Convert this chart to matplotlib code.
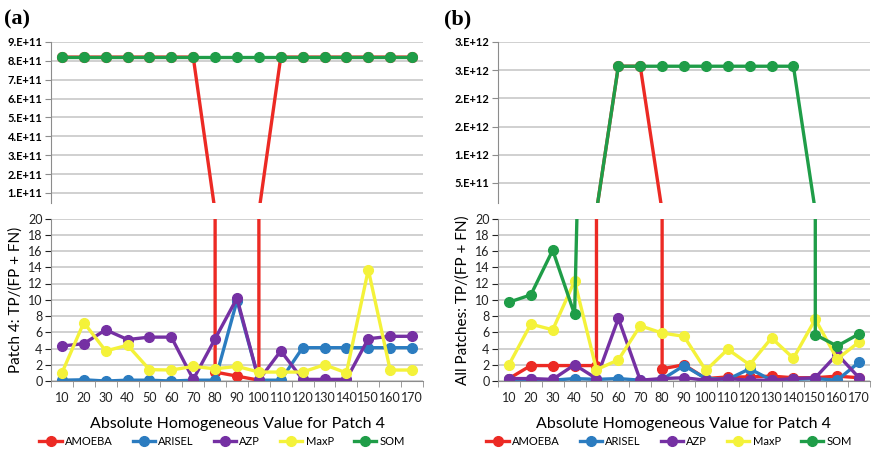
import matplotlib
matplotlib.use("Agg")
from matplotlib import pyplot as plt
from matplotlib.ticker import FixedLocator, NullFormatter
import numpy as np

plt.rcParams['font.family'] = ['Lato', 'DejaVu Sans']

# valores homogeneos (eje x)
cats = [10, 20, 30, 40, 50, 60, 70, 80, 90, 100, 110, 120, 130, 140, 150, 160, 170]
names = ["AMOEBA", "ARISEL", "AZP", "MaxP", "SOM"]
colors = ["#ec2a24", "#2b7cc0", "#7530a3", "#f4f23a", "#1f9d48"]

# panel (a): Patch 4
a_amoeba = [8.2e11, 8.2e11, 8.2e11, 8.2e11, 8.2e11, 8.2e11, 8.2e11, 1.1, 0.6, 0.1,
            8.2e11, 8.2e11, 8.2e11, 8.2e11, 8.2e11, 8.2e11, 8.2e11]
a_arisel = [0.1, 0.15, 0.0, 0.1, 0.1, 0.0, 0.1, 0.1, 9.9, 0.1, 0.1, 4.1, 4.1, 4.1, 4.1, 4.1, 4.1]
a_azp = [4.3, 4.6, 6.3, 5.1, 5.4, 5.4, 0.2, 5.2, 10.2, 0.1, 3.7, 0.2, 0.2, 0.2, 5.2, 5.5, 5.5]
a_maxp = [1.0, 7.2, 3.7, 4.4, 1.4, 1.35, 1.8, 1.5, 1.8, 1.1, 1.1, 1.1, 2.0, 1.0, 13.7, 1.35, 1.35]
a_som = [8.2e11, 8.2e11, 8.2e11, 8.2e11, 8.2e11, 8.2e11, 8.2e11, 8.2e11, 8.2e11, 8.2e11,
         8.2e11, 8.2e11, 8.2e11, 8.2e11, 8.2e11, 8.2e11, 8.2e11]

# panel (b): todos los patches
b_amoeba = [0.3, 1.9, 1.9, 1.9, 1.9, 2.57e12, 2.57e12, 1.5, 2.0, 0.3, 0.5, 0.5, 0.6, 0.4, 0.4, 0.6, 0.4]
b_arisel = [0.2, 0.2, 0.1, 0.3, 0.2, 0.3, 0.1, 0.2, 1.9, 0.3, 0.2, 1.5, 0.1, 0.2, 0.3, 0.1, 2.3]
b_azp = [0.3, 0.3, 0.2, 2.0, 0.3, 7.7, 0.1, 0.3, 0.4, 0.1, 0.3, 0.1, 0.1, 0.3, 0.4, 3.3, 0.4]
b_maxp = [2.0, 7.0, 6.3, 12.3, 1.4, 2.6, 6.8, 5.9, 5.5, 1.3, 3.9, 2.0, 5.3, 2.8, 7.6, 2.7, 4.8]
b_som = [9.7, 10.6, 16.1, 8.2, 120, 2.57e12, 2.57e12, 2.57e12, 2.57e12, 2.57e12, 2.57e12,
         2.57e12, 2.57e12, 2.57e12, 5.7, 4.3, 5.8]

# ejes superiores
a_top_ticks = [1e11, 2e11, 3e11, 4e11, 5e11, 6e11, 7e11, 8e11, 9e11]
a_top_labels = ["1.E+11", "2.E+11", "3.E+11", "4.E+11", "5.E+11", "6.E+11", "7.E+11", "8.E+11", "9.E+11"]
b_top_ticks = [5e11, 1e12, 1.5e12, 2e12, 2.5e12, 3e12]
b_top_labels = ["5.E+11", "1.E+12", "2.E+12", "2.E+12", "3.E+12", "3.E+12"]
low_ticks = [0, 2, 4, 6, 8, 10, 12, 14, 16, 18, 20]

W, H = 875, 459
fig = plt.figure(figsize=(W / 100, H / 100), dpi=100)

def px(l, t, r, b):
    return [l / W, (H - b) / H, (r - l) / W, (b - t) / H]

GRID = "#c4c4c4"
SPINE = "#8c8c8c"

def style(ax, ylim, ticks, labels, top):
    ax.set_xlim(-0.5, len(cats) - 0.5)
    ax.set_ylim(*ylim)
    ax.yaxis.set_major_locator(FixedLocator(ticks))
    ax.set_yticklabels(labels)
    ax.grid(axis="y", color=GRID, lw=1.1)
    ax.set_axisbelow(True)
    for s in ["top", "right"]:
        ax.spines[s].set_visible(False)
    ax.spines["left"].set_color(SPINE)
    ax.tick_params(axis="y", length=4, color=SPINE, pad=2)
    if top:
        ax.spines["bottom"].set_visible(False)
        ax.set_xticks([])
        ax.tick_params(axis="y", labelsize=8)
        for t in ax.get_yticklabels():
            t.set_fontweight("bold")
    else:
        ax.spines["bottom"].set_color(SPINE)
        ax.set_xticks(range(len(cats)))
        ax.set_xticklabels([str(c) for c in cats])
        ax.xaxis.set_minor_locator(FixedLocator(np.arange(-0.5, len(cats), 1.0)))
        ax.xaxis.set_minor_formatter(NullFormatter())
        ax.tick_params(axis="x", which="major", length=0, labelsize=9, pad=8, colors="#222222")
        ax.tick_params(axis="x", which="minor", length=4, color=SPINE)
        ax.tick_params(axis="y", labelsize=9, colors="#222222")

def draw(ax, series):
    x = np.arange(len(cats))
    for vals, c in zip(series, colors):
        ax.plot(x, vals, color=c, lw=2.4, marker="o", ms=7, mec=c, mfc=c)

panels = [
    (51, 423, [a_amoeba, a_arisel, a_azp, a_maxp, a_som], (0.47e11, 9e11), a_top_ticks, a_top_labels,
     "Patch 4: TP/(FP + FN)", "(a)", 4),
    (498, 870, [b_amoeba, b_arisel, b_azp, b_maxp, b_som], (1.43e11, 3e12), b_top_ticks, b_top_labels,
     "All Patches: TP/(FP + FN)", "(b)", 444),
]

for l, r, series, tlim, tticks, tlabels, ylab, tag, tagx in panels:
    ax_t = fig.add_axes(px(l, 42, r, 203))
    ax_b = fig.add_axes(px(l, 218.5, r, 381))
    draw(ax_t, series)
    draw(ax_b, series)
    style(ax_t, tlim, tticks, tlabels, True)
    style(ax_b, (0, 20), low_ticks, [str(v) for v in low_ticks], False)
    ax_b.set_ylabel(ylab, fontsize=11, labelpad=4)
    ax_b.set_xlabel("Absolute Homogeneous Value for Patch 4", fontsize=11.5, labelpad=9)
    handles = ax_b.get_lines()[:5]
    ax_b.legend(handles, names, loc="center", bbox_to_anchor=(0.46, -0.37), ncol=5, frameon=False,
                fontsize=8, handlelength=2.0, handletextpad=0.3, columnspacing=1.8)
    fig.text(tagx / W, 1 - 19 / H, tag, fontsize=16, fontweight="bold",
             family="Liberation Serif", va="center", ha="left")

fig.savefig("out.png", dpi=100)
